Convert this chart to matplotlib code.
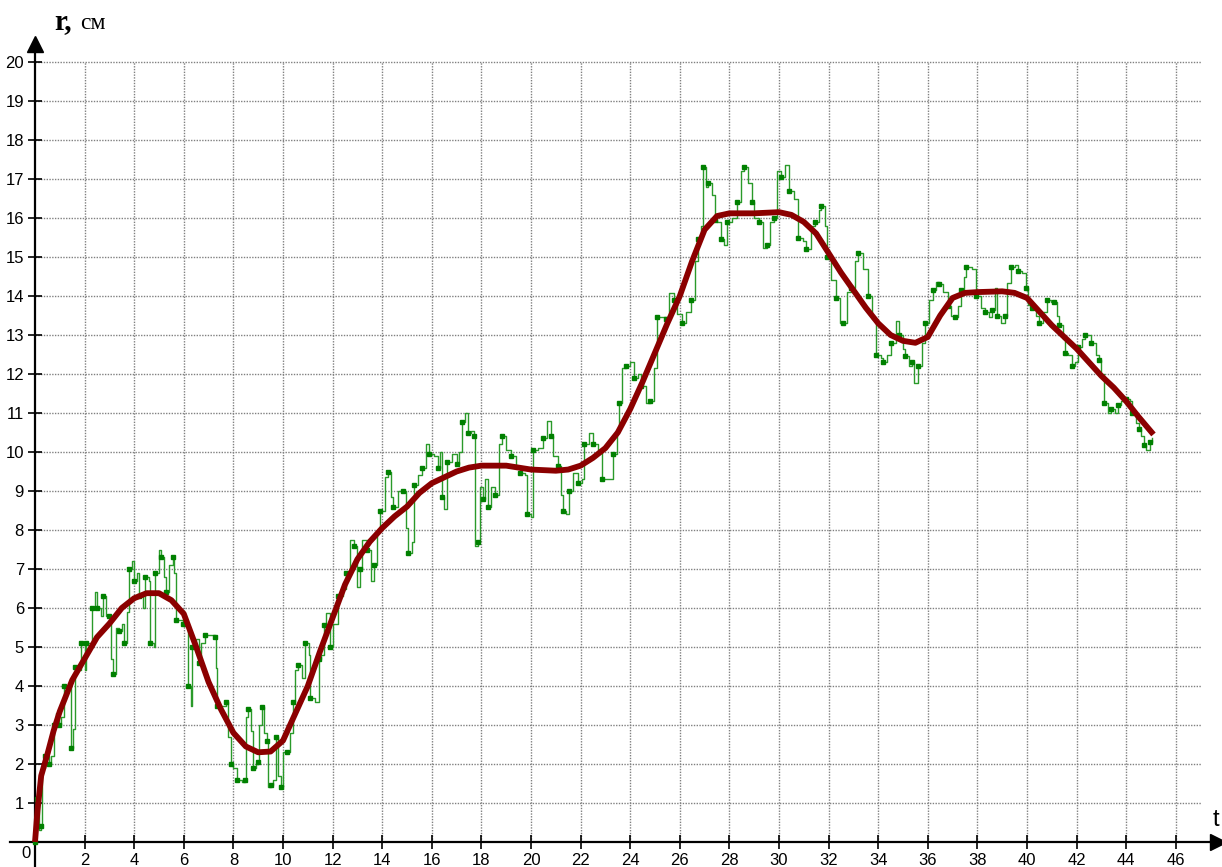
import matplotlib
matplotlib.use('Agg')
import matplotlib.pyplot as plt

# noisy measured track (green)
g_t = [0.0, 0.05, 0.1, 0.15, 0.25, 0.3, 0.4, 0.5, 0.55, 0.65, 0.75, 0.85, 0.95, 1.05, 1.15, 1.35,
       1.45, 1.55, 1.6, 1.75, 1.85, 2.0, 2.05, 2.2, 2.3, 2.4, 2.5, 2.65, 2.75, 2.85, 3.0, 3.05,
       3.15, 3.25, 3.4, 3.5, 3.6, 3.7, 3.8, 3.9, 4.0, 4.1, 4.2, 4.35, 4.45, 4.6, 4.65, 4.8,
       4.85, 5.0, 5.1, 5.2, 5.3, 5.4, 5.55, 5.6, 5.7, 5.85, 5.95, 6.05, 6.15, 6.3, 6.35, 6.5,
       6.6, 6.7, 6.85, 7.0, 7.25, 7.3, 7.35, 7.6, 7.7, 7.8, 7.9, 8.0, 8.15, 8.35, 8.45, 8.5,
       8.6, 8.7, 8.8, 8.9, 9.0, 9.05, 9.15, 9.25, 9.35, 9.4, 9.5, 9.6, 9.7, 9.8, 9.9, 10.0,
       10.15, 10.3, 10.4, 10.5, 10.6, 10.75, 10.9, 11.05, 11.1, 11.3, 11.45, 11.55, 11.65, 11.75, 11.9, 12.0,
       12.2, 12.4, 12.55, 12.7, 12.85, 13.0, 13.1, 13.2, 13.4, 13.55, 13.65, 13.8, 13.9, 14.1, 14.25, 14.35,
       14.45, 14.65, 14.85, 14.95, 15.05, 15.2, 15.3, 15.45, 15.6, 15.75, 15.9, 16.1, 16.25, 16.35, 16.4, 16.5,
       16.6, 16.8, 17.0, 17.1, 17.2, 17.35, 17.45, 17.6, 17.7, 17.75, 17.85, 17.95, 18.05, 18.15, 18.25, 18.4,
       18.55, 18.7, 18.85, 19.0, 19.2, 19.4, 19.55, 19.75, 19.85, 20.0, 20.1, 20.3, 20.5, 20.65, 20.8, 20.9,
       21.1, 21.2, 21.3, 21.4, 21.55, 21.7, 21.9, 22.05, 22.15, 22.35, 22.5, 22.7, 22.85, 23.2, 23.3, 23.45,
       23.55, 23.65, 23.85, 24.0, 24.15, 24.3, 24.45, 24.65, 24.8, 24.95, 25.1, 25.3, 25.45, 25.55, 25.75, 25.9,
       26.1, 26.25, 26.45, 26.6, 26.75, 26.85, 26.95, 27.05, 27.15, 27.3, 27.4, 27.5, 27.65, 27.8, 27.9, 28.1,
       28.3, 28.45, 28.6, 28.75, 28.9, 29.0, 29.2, 29.35, 29.5, 29.65, 29.8, 29.9, 30.1, 30.25, 30.4, 30.6,
       30.75, 30.95, 31.1, 31.3, 31.45, 31.6, 31.7, 31.85, 31.95, 32.1, 32.3, 32.45, 32.6, 32.75, 32.9, 33.05,
       33.2, 33.4, 33.6, 33.75, 33.9, 34.1, 34.2, 34.35, 34.5, 34.7, 34.85, 35.0, 35.1, 35.25, 35.35, 35.45,
       35.6, 35.75, 35.9, 36.05, 36.2, 36.35, 36.45, 36.6, 36.8, 36.95, 37.1, 37.2, 37.35, 37.45, 37.55, 37.8,
       37.95, 38.15, 38.3, 38.45, 38.6, 38.7, 38.8, 38.95, 39.1, 39.2, 39.35, 39.5, 39.65, 39.8, 39.95, 40.05,
       40.2, 40.35, 40.5, 40.65, 40.8, 40.95, 41.1, 41.2, 41.3, 41.45, 41.55, 41.65, 41.8, 41.95, 42.05, 42.2,
       42.35, 42.5, 42.6, 42.8, 42.9, 43.0, 43.1, 43.25, 43.4, 43.55, 43.65, 43.8, 44.0, 44.15, 44.25, 44.4,
       44.5, 44.6, 44.7, 44.8, 44.95, 45.05]
g_r = [0.0, 1.1, 1.1, 0.3, 0.4, 1.9, 2.2, 2.2, 2.0, 2.2, 3.0, 3.3, 3.0, 3.2, 4.0, 4.0,
       2.4, 2.9, 4.5, 4.4, 5.1, 4.4, 5.1, 5.1, 6.0, 6.4, 6.0, 5.8, 6.3, 5.8, 5.8, 4.7,
       4.3, 5.5, 5.4, 5.6, 5.1, 5.9, 7.0, 7.2, 6.7, 6.9, 6.3, 6.0, 6.8, 6.7, 5.1, 5.0,
       6.9, 7.5, 7.3, 6.8, 6.4, 7.1, 7.3, 6.9, 5.7, 5.7, 5.6, 5.6, 4.0, 3.5, 5.0, 5.2,
       4.6, 5.1, 5.3, 5.3, 5.25, 4.45, 3.5, 3.5, 3.6, 2.7, 2.0, 1.9, 1.6, 1.55, 1.6, 3.2,
       3.4, 2.85, 1.9, 2.0, 2.05, 3.0, 3.45, 2.8, 2.6, 1.4, 1.45, 1.6, 2.7, 1.7, 1.4, 2.3,
       2.3, 2.8, 3.6, 4.4, 4.55, 4.2, 5.1, 4.8, 3.7, 3.6, 4.7, 4.8, 5.56, 5.86, 5.0, 5.6,
       6.3, 6.5, 6.9, 7.74, 7.6, 6.55, 7.0, 7.74, 7.5, 6.7, 7.1, 8.0, 8.5, 9.36, 9.5, 8.85,
       8.6, 9.0, 9.0, 8.05, 7.4, 7.7, 9.15, 9.4, 9.6, 10.2, 9.95, 9.9, 9.6, 10.0, 8.85, 8.55,
       9.75, 9.95, 9.7, 10.0, 10.77, 11.0, 10.5, 10.55, 10.4, 7.6, 7.7, 9.1, 8.8, 9.3, 8.6, 9.1,
       8.9, 10.2, 10.4, 10.05, 9.9, 9.6, 9.45, 9.4, 8.4, 8.33, 10.05, 10.1, 10.35, 10.8, 10.4, 9.9,
       9.65, 8.9, 8.5, 8.4, 9.0, 9.45, 9.2, 9.3, 10.2, 10.5, 10.2, 10.05, 9.3, 9.3, 9.95, 10.56,
       11.25, 12.15, 12.2, 12.3, 11.9, 12.0, 11.7, 11.25, 11.3, 12.15, 13.46, 13.45, 13.4, 14.08, 13.9, 13.55,
       13.3, 13.6, 13.9, 14.9, 15.45, 15.8, 17.3, 16.8, 16.9, 16.6, 15.95, 15.9, 15.45, 15.3, 15.9, 16.0,
       16.4, 17.2, 17.3, 16.9, 16.4, 16.0, 15.9, 15.23, 15.3, 15.9, 16.0, 17.2, 17.05, 17.35, 16.7, 16.5,
       15.5, 15.4, 15.2, 15.8, 15.9, 16.2, 16.3, 15.8, 15.0, 14.4, 13.95, 13.3, 13.3, 14.1, 14.2, 14.9,
       15.1, 14.7, 14.0, 13.4, 12.5, 12.4, 12.3, 12.5, 12.8, 13.35, 13.0, 12.65, 12.45, 12.2, 12.3, 11.77,
       12.2, 12.8, 13.3, 13.9, 14.15, 14.35, 14.3, 14.1, 13.75, 13.5, 13.45, 13.75, 14.15, 14.5, 14.75, 14.7,
       14.0, 13.7, 13.6, 13.45, 13.64, 14.2, 13.5, 13.3, 13.5, 14.33, 14.75, 14.8, 14.65, 14.6, 14.2, 13.76,
       13.7, 13.5, 13.3, 13.6, 13.9, 13.85, 13.85, 13.5, 13.25, 12.9, 12.55, 12.5, 12.2, 12.3, 12.7, 12.9,
       13.0, 13.0, 12.8, 12.5, 12.35, 12.0, 11.25, 11.0, 11.1, 11.0, 11.2, 11.3, 11.35, 11.3, 11.0, 10.75,
       10.6, 10.4, 10.18, 10.05, 10.25, 10.35]

# smoothed trend (dark red)
s_t = [0, 0.1, 0.25, 0.5, 0.75, 1, 1.5, 2, 2.5, 3, 3.5, 4, 4.5, 5, 5.5, 6, 6.5, 7, 7.5, 8,
       8.5, 9, 9.5, 10, 10.5, 11, 11.5, 12, 12.5, 13, 13.5, 14, 14.5, 15, 15.5, 16, 16.5, 17, 17.5, 18,
       19, 20, 21, 21.5, 22, 22.5, 23, 23.5, 24, 24.5, 25, 25.5, 26, 26.5, 27, 27.5, 28, 29, 30, 30.5,
       31, 31.5, 32, 32.5, 33, 33.5, 34, 34.5, 35, 35.5, 36, 36.5, 37, 37.5, 38, 39, 39.5, 40, 40.5, 41,
       41.5, 42, 42.5, 43, 43.5, 44, 44.5, 45.1]
s_r = [0, 0.8, 1.7, 2.25, 2.85, 3.35, 4.15, 4.7, 5.25, 5.6, 6.0, 6.25, 6.38, 6.38, 6.2, 5.85, 5.0, 4.1, 3.4, 2.8,
       2.45, 2.3, 2.32, 2.6, 3.3, 4.0, 4.9, 5.75, 6.6, 7.25, 7.7, 8.05, 8.35, 8.6, 8.95, 9.2, 9.35, 9.5, 9.6, 9.65,
       9.65, 9.55, 9.52, 9.55, 9.65, 9.85, 10.1, 10.5, 11.1, 11.8, 12.55, 13.3, 14.0, 14.9, 15.7, 16.05, 16.12, 16.12, 16.15, 16.08,
       15.9, 15.6, 15.1, 14.6, 14.15, 13.7, 13.3, 13.0, 12.85, 12.8, 12.95, 13.5, 13.95, 14.08, 14.1, 14.12, 14.08, 13.95, 13.6, 13.25,
       12.95, 12.65, 12.3, 11.95, 11.65, 11.3, 10.9, 10.45]

x_ticks = list(range(2, 47, 2))
y_ticks = list(range(1, 21))

W, H = 1222, 867
fig = plt.figure(figsize=(W / 100, H / 100), dpi=100)
ax = fig.add_axes([0, 0, 1, 1])
# origin at pixel (35, 842); 24.8 px per t, 39 px per r
ax.set_xlim(-35 / 24.8, (W - 35) / 24.8)
ax.set_ylim(-(H - 842) / 39, 842 / 39)

gc = '#808080'
ax.vlines(x_ticks, 0, 20, colors=gc, linestyles=(0, (1, 1)), lw=1, zorder=1)
ax.hlines(y_ticks, 0, 47, colors=gc, linestyles=(0, (1, 1)), lw=1, zorder=1)

ax.plot(g_t, g_r, color='#2a9a2a', lw=1, drawstyle='steps-post', zorder=3)
ax.plot(g_t, g_r, ls='none', marker='s', ms=3.2, color='#008000', markevery=2, zorder=3)
ax.plot(s_t, s_r, color='#8b0000', lw=4.2, solid_capstyle='butt', zorder=4)

for s in ['top', 'right']:
    ax.spines[s].set_visible(False)
ax.spines['left'].set_position(('data', 0))
ax.spines['bottom'].set_position(('data', 0))
ax.spines['left'].set_bounds(-1, 20.3)
ax.spines['bottom'].set_bounds(-1, 47.5)
ax.spines['left'].set_linewidth(1.6)
ax.spines['bottom'].set_linewidth(1.6)
ax.plot([0], [20.45], marker='^', ms=11, color='black', clip_on=False, zorder=5)
ax.plot([47.7], [0], marker='>', ms=11, color='black', clip_on=False, zorder=5)

ax.set_xticks(x_ticks)
ax.set_xticklabels([str(v) for v in x_ticks])
ax.set_yticks(y_ticks)
ax.set_yticklabels([str(v) for v in y_ticks])
ax.tick_params(direction='inout', length=10, width=1.2, labelsize=12, pad=3)
for lab in ax.get_xticklabels() + ax.get_yticklabels():
    lab.set_fontfamily('Liberation Sans')

ax.text(-0.35, -0.3, '0', ha='center', va='center', fontsize=12, family='Liberation Sans')

fig.text(54 / W, 1 - 29 / H, 'r,', fontsize=21, fontweight='bold', family='Liberation Serif', va='baseline')
fig.text(80 / W, 1 - 29 / H, 'см', fontsize=17, family='Liberation Serif', va='baseline')
fig.text(1213 / W, 1 - 826 / H, 't', fontsize=17, family='Liberation Sans', va='baseline')

fig.savefig('out.png', dpi=100)
